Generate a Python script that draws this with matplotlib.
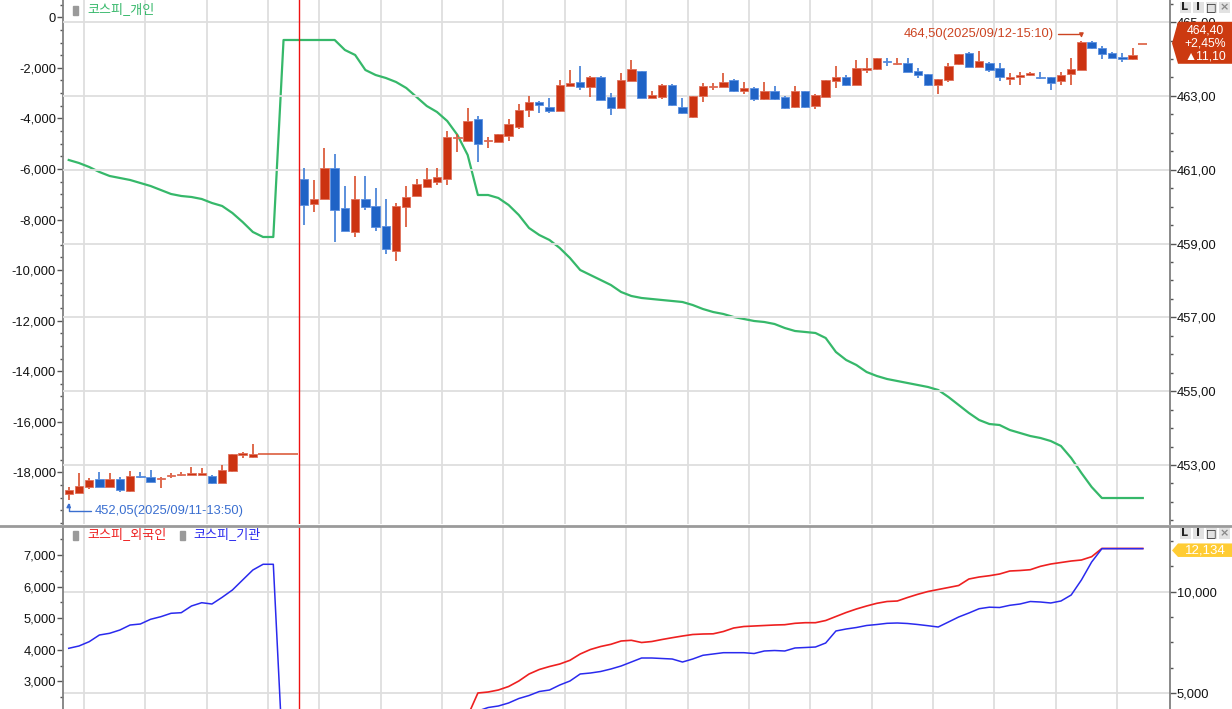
import numpy as np
import pandas as pd
import matplotlib
matplotlib.use("Agg")
import matplotlib.pyplot as plt
from matplotlib.ticker import FixedLocator, MultipleLocator, FuncFormatter
from matplotlib.patches import Polygon, Rectangle
from matplotlib.lines import Line2D

plt.rcParams['font.family'] = ['Liberation Sans', 'Noto Sans CJK KR', 'DejaVu Sans']

# 5-minute slots shown on the x axis (afternoon of day 1, full day 2)
slots = pd.date_range('2025-09-11 13:50', '2025-09-11 15:40', freq='5min').append(
    pd.date_range('2025-09-12 08:50', '2025-09-12 15:40', freq='5min'))
bar_times = pd.date_range('2025-09-11 13:50', '2025-09-11 15:20', freq='5min').append(
    pd.date_range('2025-09-12 08:50', '2025-09-12 15:35', freq='5min'))

opens = [452.20, 452.25, 452.39, 452.61, 452.41, 452.61, 452.30, 452.69, 452.68, 452.62,
         452.69, 452.72, 452.74, 452.74, 452.70, 452.51, 452.84, 453.28, 453.21,
         460.76, 460.07, 460.20, 461.04, 459.95, 459.30, 460.22, 460.01, 459.47, 458.79,
         459.99, 460.28, 460.52, 460.67, 460.74, 461.85, 461.78, 462.37, 461.77, 461.76,
         461.92, 462.16, 462.62, 462.84, 462.70, 462.59, 463.28, 463.37, 463.25, 463.52,
         462.98, 462.68, 463.40, 463.67, 462.95, 462.98, 463.31, 462.70, 462.43, 463.00,
         463.24, 463.25, 463.43, 463.13, 463.22, 462.91, 463.13, 462.98, 462.70, 463.13,
         462.73, 462.98, 463.40, 463.52, 463.29, 463.71, 463.72, 463.93, 463.87, 463.90,
         463.68, 463.59, 463.29, 463.43, 463.86, 464.17, 463.79, 463.90, 463.75, 463.45,
         463.50, 463.58, 463.51, 463.50, 463.41, 463.59, 463.70, 464.47, 464.31, 464.17,
         464.03, 463.99]
highs = [452.41, 452.79, 452.64, 452.81, 452.79, 452.68, 452.84, 452.81, 452.86, 452.68,
         452.78, 452.81, 452.95, 452.93, 452.72, 453.00, 453.30, 453.35, 453.58,
         461.04, 460.72, 461.58, 461.42, 460.56, 460.83, 460.83, 460.50, 460.22, 460.10,
         460.56, 460.76, 461.06, 461.06, 462.06, 461.98, 462.66, 462.46, 461.90, 461.98,
         462.38, 462.77, 463.00, 462.86, 462.95, 463.43, 463.69, 463.82, 463.53, 463.53,
         463.07, 463.63, 463.97, 463.68, 463.14, 463.32, 463.32, 462.95, 463.01, 463.34,
         463.34, 463.61, 463.45, 463.37, 463.23, 463.37, 463.26, 462.99, 463.26, 463.14,
         463.05, 463.44, 463.82, 463.58, 463.98, 464.02, 464.03, 464.04, 464.02, 464.04,
         463.75, 463.60, 463.46, 463.88, 464.14, 464.18, 464.21, 463.93, 463.88, 463.61,
         463.65, 463.65, 463.65, 463.51, 463.65, 464.02, 464.50, 464.49, 464.35, 464.18,
         464.17, 464.30]
lows = [452.05, 452.24, 452.34, 452.40, 452.41, 452.28, 452.28, 452.64, 452.54, 452.38,
        452.66, 452.70, 452.73, 452.72, 452.48, 452.50, 452.82, 453.18, 453.20,
        459.50, 459.86, 460.20, 459.05, 459.34, 459.18, 459.91, 459.34, 458.73, 458.52,
        459.46, 460.28, 460.52, 460.59, 460.60, 461.49, 461.78, 461.21, 461.58, 461.75,
        461.78, 462.10, 462.44, 462.55, 462.55, 462.59, 463.27, 463.16, 462.97, 462.88,
        462.49, 462.68, 463.40, 462.94, 462.94, 462.93, 462.74, 462.52, 462.40, 462.84,
        463.15, 463.24, 463.12, 463.04, 462.85, 462.90, 462.90, 462.65, 462.68, 462.66,
        462.64, 462.97, 463.22, 463.28, 463.29, 463.61, 463.71, 463.82, 463.84, 463.64,
        463.49, 463.28, 463.05, 463.37, 463.85, 463.78, 463.78, 463.65, 463.41, 463.29,
        463.29, 463.55, 463.45, 463.15, 463.29, 463.29, 463.69, 464.28, 464.00, 464.03,
        463.93, 463.98]
closes = [452.32, 452.42, 452.60, 452.41, 452.61, 452.32, 452.70, 452.67, 452.54, 452.66,
          452.71, 452.73, 452.75, 452.75, 452.50, 452.86, 453.29, 453.29, 453.30,
          460.04, 460.22, 461.04, 459.92, 459.34, 460.22, 459.98, 459.45, 458.85, 460.01,
          460.25, 460.61, 460.76, 460.81, 461.88, 461.87, 462.32, 461.69, 461.79, 461.96,
          462.23, 462.62, 462.84, 462.75, 462.60, 463.31, 463.36, 463.24, 463.52, 462.89,
          462.68, 463.43, 463.73, 462.95, 463.02, 463.31, 462.75, 462.53, 463.00, 463.27,
          463.26, 463.37, 463.13, 463.22, 462.91, 463.13, 462.91, 462.68, 463.13, 462.70,
          463.02, 463.43, 463.52, 463.29, 463.75, 463.73, 464.02, 463.91, 463.89, 463.65,
          463.56, 463.29, 463.45, 463.81, 464.13, 463.79, 463.95, 463.70, 463.50, 463.50,
          463.56, 463.59, 463.49, 463.36, 463.56, 463.72, 464.47, 464.31, 464.15, 464.04,
          464.01, 464.11]
current_price = 464.40

# 코스피_개인 (one value per slot, left axis of the top panel)
retail = [-5645, -5764, -5922, -6120, -6278, -6357, -6436, -6555, -6674, -6832,
          -6990, -7069, -7109, -7188, -7346, -7465, -7742, -8098, -8493, -8691,
          -8691, -898, -898, -898, -898, -898, -898, -1294, -1491, -2085,
          -2283, -2401, -2560, -2797, -3153, -3509, -3746, -4102, -4656, -5447,
          -7030, -7030, -7148, -7425, -7821, -8335, -8612, -8810, -9126, -9522,
          -9997, -10195, -10392, -10590, -10867, -11025, -11104, -11144, -11184, -11223,
          -11263, -11382, -11540, -11659, -11737, -11856, -11935, -12014, -12054, -12133,
          -12291, -12410, -12449, -12489, -12687, -13241, -13557, -13755, -14032, -14190,
          -14309, -14388, -14467, -14546, -14625, -14744, -15021, -15337, -15654, -15931,
          -16089, -16129, -16326, -16445, -16564, -16643, -16762, -16959, -17434, -18027,
          -18581, -19017, -19017, -19017, -19017, -19017]
# 코스피_기관 (one value per slot, left axis of the bottom panel)
institution = [4047, 4120, 4256, 4468, 4522, 4626, 4784, 4816, 4965, 5047,
               5155, 5174, 5386, 5490, 5449, 5661, 5892, 6209, 6525, 6706,
               6706, 150, 150, 120, 100, 100, 90, 80, 80, 60,
               50, 60, 80, 100, 120, 150, 200, 300, 400, 600,
               2063, 2173, 2221, 2316, 2458, 2553, 2680, 2727, 2885, 3012,
               3234, 3265, 3313, 3392, 3487, 3613, 3740, 3740, 3724, 3708,
               3613, 3708, 3826, 3867, 3908, 3908, 3908, 3882, 3962, 3977,
               3962, 4057, 4072, 4088, 4215, 4595, 4658, 4705, 4769, 4800,
               4838, 4848, 4832, 4800, 4762, 4721, 4879, 5038, 5164, 5300,
               5348, 5338, 5408, 5449, 5528, 5512, 5481, 5544, 5734, 6209,
               6778, 7200, 7200, 7200, 7200, 7200]
# 코스피_외국인 (from 10:10 on day 2, right axis of the bottom panel)
foreign_start = pd.Timestamp('2025-09-12 10:10')
foreign = [3868, 5003, 5052, 5151, 5323, 5595, 5940, 6162, 6310, 6433, 6616,
           6927, 7149, 7297, 7405, 7568, 7603, 7494, 7543, 7642, 7731,
           7815, 7889, 7913, 7923, 8037, 8209, 8283, 8308, 8333, 8357,
           8372, 8441, 8471, 8471, 8579, 8777, 8974, 9147, 9295, 9428,
           9517, 9541, 9714, 9872, 10010, 10109, 10207, 10306, 10626, 10725,
           10789, 10873, 11021, 11046, 11085, 11253, 11366, 11440, 11514, 11564,
           11727, 12134, 12134, 12134, 12134, 12134]

W, H = 1232, 709
GREEN, FRED, IBLUE = '#36b86a', '#ee2020', '#2a2aee'
UP, DOWN = '#cc3311', '#1f63c6'
GRID = '#dedede'


def area(l, t, r, b):
    return [l / W, 1 - b / H, (r - l) / W, (b - t) / H]


def frac(x, y):
    return x / W, 1 - y / H


fig = plt.figure(figsize=(W / 100, H / 100), dpi=100)
ax = fig.add_axes(area(63, 0, 1170, 524))
axr = ax.twinx()
bx = fig.add_axes(area(63, 527, 1170, 760))
bxr = bx.twinx()
bx.set_zorder(bxr.get_zorder() + 1)
bx.patch.set_visible(False)

xs = np.arange(len(slots))
pos = slots.get_indexer(bar_times)
day2_first = slots.get_loc(pd.Timestamp('2025-09-12 08:50'))
n_day1 = int((bar_times < pd.Timestamp('2025-09-12')).sum())
grid_x = [i - 0.5 for i, t in enumerate(slots) if t.minute % 30 == 0]

for left, right in ((ax, axr), (bx, bxr)):
    for a in (left, right):
        for s in a.spines.values():
            s.set_visible(False)
        a.set_xlim(-0.56, 107.66)
        a.set_xticks([])
        a.tick_params(axis='y', which='major', length=4, width=1, color='#555555',
                      pad=1, labelsize=9.3, labelcolor='#111111')
        a.tick_params(axis='y', which='minor', length=2.5, width=1, color='#555555')
    left.spines['left'].set_visible(True)
    left.spines['left'].set_color('#808080')
    left.spines['left'].set_linewidth(1.3)
    right.spines['right'].set_visible(True)
    right.spines['right'].set_color('#808080')
    right.spines['right'].set_linewidth(1.3)
    right.set_axisbelow(True)
    right.grid(axis='y', which='major', color=GRID, lw=1.3)

# ---- top panel ----
ax.set_ylim(-20045, 684)
ax.yaxis.set_major_locator(FixedLocator(range(0, -18001, -2000)))
ax.yaxis.set_minor_locator(MultipleLocator(500))
ax.yaxis.set_major_formatter(FuncFormatter(lambda v, _: f"{int(round(v)):,}"))
axr.set_ylim(451.40, 465.60)
axr.yaxis.set_major_locator(FixedLocator(np.arange(453, 466, 2)))
axr.yaxis.set_minor_locator(MultipleLocator(0.5))
axr.yaxis.set_major_formatter(FuncFormatter(lambda v, _: f"{v:.2f}".replace('.', ',')))

for gx in grid_x:
    ax.axvline(gx, color=GRID, lw=1.3, zorder=0)
ax.plot(xs, retail, color=GREEN, lw=1.6, zorder=2)

o, h, l, c = map(np.array, (opens, highs, lows, closes))
up = c >= o
axr.vlines(pos, l, h, colors=np.where(up, '#d9502e', '#3f7dd6'), lw=1.2, zorder=3)
axr.bar(pos, np.maximum(np.abs(c - o), 0.035), bottom=np.minimum(o, c), width=0.82,
        color=np.where(up, UP, DOWN), edgecolor=np.where(up, '#e0705a', '#5a8fe0'),
        linewidth=0.6, zorder=4)
axr.axvline(day2_first - 0.5, color='#ee1111', lw=1, zorder=5)
prev_close = closes[n_day1 - 1]
axr.hlines(prev_close, pos[n_day1 - 1] + 0.5, day2_first - 0.6, color='#d9502e', lw=1.1, zorder=3)
axr.hlines(current_price, xs[-1] - 0.45, xs[-1] + 0.45, color='#d9502e', lw=1.1, zorder=3)

hi = int(np.argmax(h))
lo = int(np.argmin(l))
axr.annotate(f"{h[hi]:.2f}".replace('.', ',') + f"({bar_times[hi]:%Y/%m/%d-%H:%M})",
             xy=(pos[hi], h[hi]), xytext=(-28, 7), textcoords='offset pixels',
             ha='right', va='center', fontsize=9.3, color='#cc4422', zorder=6,
             arrowprops=dict(arrowstyle='-|>', color='#cc4422', lw=1, mutation_scale=6,
                             shrinkA=1, shrinkB=2,
                             connectionstyle='angle,angleA=0,angleB=90,rad=0'))
axr.annotate(f"{l[lo]:.2f}".replace('.', ',') + f"({bar_times[lo]:%Y/%m/%d-%H:%M})",
             xy=(pos[lo], l[lo]), xytext=(26, -11), textcoords='offset pixels',
             ha='left', va='center', fontsize=9.3, color='#3a6fd0', zorder=6,
             arrowprops=dict(arrowstyle='-|>', color='#3a6fd0', lw=1, mutation_scale=6,
                             shrinkA=1, shrinkB=2,
                             connectionstyle='angle,angleA=0,angleB=90,rad=0'))

# ---- bottom panel ----
bx.set_ylim(512, 7886)
bx.yaxis.set_major_locator(MultipleLocator(1000))
bx.yaxis.set_minor_locator(MultipleLocator(500))
bx.yaxis.set_major_formatter(FuncFormatter(lambda v, _: f"{int(round(v)):,}"))
bxr.set_ylim(1698, 13192)
bxr.yaxis.set_major_locator(MultipleLocator(5000))
bxr.yaxis.set_minor_locator(MultipleLocator(1250))
bxr.yaxis.set_major_formatter(FuncFormatter(lambda v, _: f"{int(round(v)):,}"))

for gx in grid_x:
    bxr.axvline(gx, color=GRID, lw=1.3, zorder=0)
bxr.axvline(day2_first - 0.5, color='#ee1111', lw=1, zorder=1)
f0 = slots.get_loc(foreign_start)
bxr.plot(xs[f0:f0 + len(foreign)], foreign, color=FRED, lw=1.2, zorder=2)
bx.plot(xs, institution, color=IBLUE, lw=1.1, zorder=2)

# ---- panel separator, legends, buttons ----
fig.add_artist(Line2D([0, 1], [1 - 525.5 / H] * 2, transform=fig.transFigure,
                      color='#9a9a9a', lw=2))

legend_items = [(73, 10, '코스피_개인', GREEN, 87),
                (73, 535, '코스피_외국인', FRED, 87),
                (180, 535, '코스피_기관', IBLUE, 193)]
for mx, my, label, col, tx in legend_items:
    fig.add_artist(Rectangle(frac(mx, my + 4.5), 5 / W, 9 / H, transform=fig.transFigure,
                             color='#9a9a9a', zorder=5))
    fig.text(tx / W, 1 - my / H, label, color=col, fontsize=9.4, ha='left', va='center',
             family=['Noto Sans CJK KR', 'DejaVu Sans'], zorder=6)

for yc in (7, 533):
    for xc, g in zip((1185, 1198, 1211, 1224), ('L', 'I', '□', '×')):
        fig.add_artist(Rectangle(frac(xc - 5.5, yc + 5.5), 11 / W, 11 / H,
                                 transform=fig.transFigure, fc='#e2e2e2', ec='none', zorder=5))
        fig.text(xc / W, 1 - yc / H, g, ha='center', va='center', fontsize=8,
                 fontweight='bold', color='#222222' if g != '×' else '#888888',
                 family='DejaVu Sans', zorder=6)

# current price tag
change = current_price - prev_close
py = H - axr.transData.transform((0, current_price))[1] - 1
tag = [(1172, py), (1178, py - 21.5), (1232, py - 21.5), (1232, py + 20.5), (1178, py + 20.5)]
fig.add_artist(Polygon([frac(*p) for p in tag], closed=True, transform=fig.transFigure,
                       fc='#cc3a10', ec='none', zorder=5))
for dy, txt in ((-13, f"{current_price:.2f}"), (0, f"+{change / prev_close * 100:.2f}%"),
                (13, f"▲{change:.2f}")):
    fig.text(1205 / W, 1 - (py + dy) / H, txt.replace('.', ','), color='white', fontsize=8.8,
             ha='center', va='center', zorder=6)

# last value tag of the bottom panel
qy = H - bxr.transData.transform((0, foreign[-1]))[1] + 2
tag2 = [(1172, qy), (1178, qy - 7), (1232, qy - 7), (1232, qy + 6.5), (1178, qy + 6.5)]
fig.add_artist(Polygon([frac(*p) for p in tag2], closed=True, transform=fig.transFigure,
                       fc='#ffcc33', ec='none', zorder=5))
fig.text(1205 / W, 1 - qy / H, f"{foreign[-1]:,}", color='white', fontsize=9.5,
         ha='center', va='center', zorder=6)

fig.savefig('out.png', dpi=100)
